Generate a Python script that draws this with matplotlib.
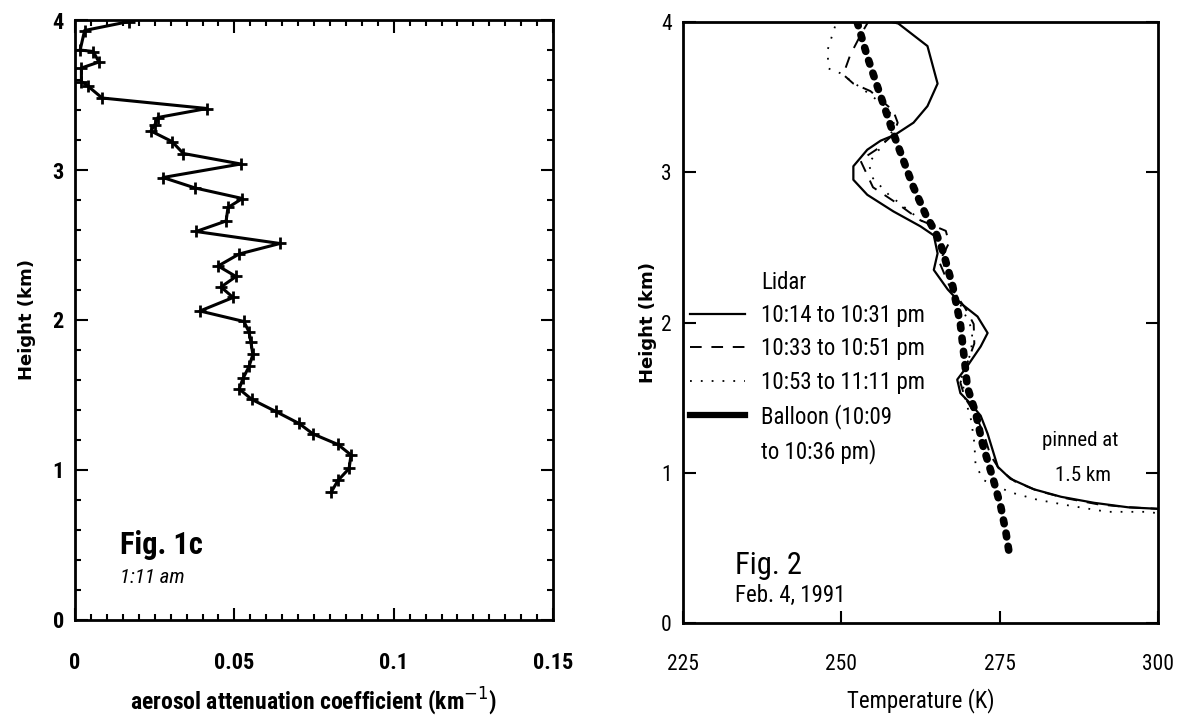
import matplotlib
matplotlib.use("Agg")
import matplotlib.pyplot as plt
from matplotlib import font_manager
from matplotlib.lines import Line2D
from matplotlib.ticker import MultipleLocator

# pick a narrow face if one is around, the scan looks like condensed Helvetica
_have = {(f.name, f.stretch) for f in font_manager.fontManager.ttflist}
_names = {n for n, s in _have}
NARROW, STRETCH, FS = ['DejaVu Sans'], 'normal', 0.86
for cand in ['Roboto Condensed', 'Liberation Sans Narrow', 'Open Sans Condensed',
             'Noto Sans Condensed']:
    if cand in _names:
        NARROW, FS = [cand, 'DejaVu Sans'], 1.0
        break
else:
    if ('DejaVu Sans', 'condensed') in _have or ('DejaVu Sans', 'semi-condensed') in _have:
        STRETCH, FS = 'condensed', 0.95
WIDE = ['DejaVu Sans']

# Fig. 1c - aerosol attenuation profile, 1:11 am
aer_height = [3.99, 3.93, 3.80, 3.79, 3.72, 3.68, 3.59, 3.56, 3.48, 3.41,
              3.35, 3.30, 3.26, 3.19, 3.11, 3.04, 2.95, 2.88, 2.81, 2.75,
              2.66, 2.59, 2.51, 2.44, 2.36, 2.29, 2.22, 2.15, 2.06, 1.99,
              1.92, 1.85, 1.77, 1.69, 1.61, 1.54, 1.47, 1.39, 1.31, 1.24,
              1.17, 1.10, 1.01, 0.93, 0.85]
aer_coef = [0.017, 0.003, 0.0016, 0.0057, 0.0075, 0.002, 0.002, 0.004, 0.0085, 0.0414,
            0.026, 0.025, 0.0238, 0.0304, 0.034, 0.052, 0.0276, 0.0377, 0.0525, 0.048,
            0.0474, 0.038, 0.0643, 0.0515, 0.0449, 0.0505, 0.0458, 0.0496, 0.0392, 0.053,
            0.0546, 0.0552, 0.0558, 0.0546, 0.0527, 0.0515, 0.0555, 0.063, 0.0703, 0.0747,
            0.0825, 0.0866, 0.086, 0.0825, 0.0803]

# Fig. 2 - temperature profiles, Feb. 4, 1991
lid1_height = [4.02, 3.99, 3.84, 3.59, 3.44, 3.33, 3.25, 3.21, 3.15, 3.04,
               2.95, 2.85, 2.74, 2.64, 2.58, 2.46, 2.35, 2.22, 2.13, 2.04,
               1.93, 1.84, 1.71, 1.62, 1.53, 1.46, 1.38, 1.26, 1.15, 1.04,
               0.96, 0.89, 0.84, 0.80, 0.77, 0.76]
lid1_temp = [256.0, 259.0, 263.6, 265.2, 263.6, 261.4, 258.5, 256.2, 254.1, 251.9,
             251.9, 254.1, 258.2, 262.5, 264.6, 265.2, 264.6, 266.8, 268.8, 271.5,
             273.1, 272.0, 269.9, 268.3, 268.8, 270.4, 272.0, 273.1, 273.9, 274.7,
             276.7, 280.4, 284.7, 289.9, 295.3, 300.0]

lid2_height = [4.02, 3.91, 3.78, 3.65, 3.59, 3.54, 3.41, 3.33, 3.25, 3.15,
               3.08, 2.90, 2.79, 2.68, 2.61, 2.53, 2.40, 2.25, 2.10, 1.99,
               1.86, 1.72, 1.60, 1.50, 1.40, 1.26, 1.12, 1.02, 0.94, 0.88,
               0.83, 0.79, 0.77, 0.76]
lid2_temp = [254.5, 253.0, 251.4, 250.3, 251.9, 254.6, 258.2, 258.9, 258.2, 255.5,
             253.0, 255.0, 258.9, 262.5, 266.5, 267.0, 265.5, 267.0, 269.5, 270.9,
             271.0, 269.8, 268.8, 269.5, 271.0, 272.5, 273.5, 275.0, 277.5, 281.0,
             285.5, 290.5, 295.5, 300.0]

lid3_height = [3.97, 3.93, 3.81, 3.69, 3.66, 3.55, 3.42, 3.30, 3.18, 3.06,
               2.96, 2.85, 2.75, 2.65, 2.55, 2.40, 2.25, 2.10, 1.95, 1.80,
               1.65, 1.50, 1.35, 1.20, 1.05, 0.95, 0.87, 0.82, 0.78, 0.74,
               0.74, 0.73]
lid3_temp = [249.0, 248.7, 247.8, 248.0, 249.8, 253.5, 257.5, 258.5, 256.5, 254.3,
             255.0, 257.5, 260.5, 263.5, 266.0, 266.0, 267.5, 269.0, 270.7, 270.5,
             269.0, 269.5, 270.5, 271.0, 271.2, 272.5, 276.7, 281.0, 286.2, 292.0,
             298.4, 300.0]

bal_height = [4.0, 3.77, 3.57, 3.41, 3.26, 3.08, 2.90, 2.72, 2.59, 2.48,
              2.24, 1.99, 1.73, 1.57, 1.40, 1.19, 0.97, 0.77, 0.60, 0.44]
bal_temp = [252.5, 254.1, 255.7, 257.0, 258.2, 259.8, 261.4, 263.3, 265.0, 266.0,
            267.6, 268.8, 269.5, 269.9, 271.2, 272.3, 273.9, 275.2, 276.0, 276.6]

legend_labels = ['Lidar', '10:14 to 10:31 pm', '10:33 to 10:51 pm', '10:53 to 11:11 pm',
                 'Balloon (10:09', 'to 10:36 pm)']


def nfont(size, **kw):
    d = dict(family=NARROW, fontstretch=STRETCH, fontsize=size * FS)
    d.update(kw)
    return d


fig = plt.figure(figsize=(11.78, 7.17), dpi=100)
ax1 = fig.add_axes([0.0637, 0.1353, 0.4058, 0.8368])
ax2 = fig.add_axes([0.5798, 0.1311, 0.4032, 0.8382])

for ax in (ax1, ax2):
    for sp in ax.spines.values():
        sp.set_linewidth(2.0)

# ---- left panel
ax1.plot(aer_coef, aer_height, '-', color='black', lw=2.2,
         marker='+', ms=9, mew=2.0)
ax1.set_xlim(0, 0.15)
ax1.set_ylim(0, 4)
ax1.set_xticks([0, 0.05, 0.1, 0.15])
ax1.set_xticklabels(['0', '0.05', '0.1', '0.15'])
ax1.set_yticks([0, 1, 2, 3, 4])
ax1.xaxis.set_minor_locator(MultipleLocator(0.005))
ax1.yaxis.set_minor_locator(MultipleLocator(0.2))
ax1.tick_params(which='both', direction='in', top=True, right=True, width=1.5)
ax1.tick_params(which='major', length=9)
ax1.tick_params(which='minor', length=4)
ax1.tick_params(axis='x', which='major', pad=23)
ax1.tick_params(axis='y', which='major', pad=8)
for lab in ax1.get_xticklabels() + ax1.get_yticklabels():
    lab.update(nfont(16, fontweight='bold'))
ax1.set_xlabel('aerosol attenuation coefficient (km$^{-1}$)',
               **nfont(17, fontweight='bold'), labelpad=8)
ax1.set_ylabel('Height (km)', family=WIDE, fontsize=13, fontweight='bold', labelpad=12)
ax1.text(0.094, 0.125, 'Fig. 1c', transform=ax1.transAxes,
         **nfont(22, fontweight='bold'), va='center')
ax1.text(0.094, 0.07, '1:11 am', transform=ax1.transAxes,
         **nfont(15, style='italic'), va='center')

# ---- right panel
ax2.plot(lid1_temp, lid1_height, '-', color='black', lw=1.6)
ax2.plot(lid2_temp, lid2_height, color='black', lw=1.4, ls=(0, (6, 5)))
ax2.plot(lid3_temp, lid3_height, color='black', lw=1.3, ls=(0, (1, 5)))
ax2.plot(bal_temp, bal_height, color='black', lw=5.5, ls=(0, (0.5, 1.25)),
         dash_capstyle='round')
ax2.set_xlim(225, 300)
ax2.set_ylim(0, 4)
ax2.set_xticks([225, 250, 275, 300])
ax2.set_yticks([0, 1, 2, 3, 4])
ax2.tick_params(which='major', direction='in', right=True, length=9, width=1.5)
ax2.tick_params(axis='x', pad=22)
ax2.tick_params(axis='y', pad=8)
for lab in ax2.get_xticklabels() + ax2.get_yticklabels():
    lab.update(nfont(15.5))
ax2.set_xlabel('Temperature (K)', **nfont(16.5), labelpad=10)
ax2.set_ylabel('Height (km)', family=WIDE, fontsize=13, fontweight='bold', labelpad=3)

handles = [
    Line2D([], [], color='none'),
    Line2D([], [], color='black', lw=1.6),
    Line2D([], [], color='black', lw=1.4, ls=(0, (6, 5))),
    Line2D([], [], color='black', lw=1.3, ls=(0, (1, 5))),
    Line2D([], [], color='black', lw=4.5),
    Line2D([], [], color='none'),
]
ax2.legend(handles, legend_labels, loc='upper left', bbox_to_anchor=(0.015, 0.586),
           frameon=False, handlelength=2.4, handletextpad=0.7, labelspacing=0.45,
           prop={'family': NARROW, 'stretch': STRETCH, 'size': 16.5 * FS},
           borderaxespad=0, borderpad=0)

ax2.text(0.109, 0.0965, 'Fig. 2', transform=ax2.transAxes, **nfont(22), va='center')
ax2.text(0.109, 0.045, 'Feb. 4, 1991', transform=ax2.transAxes, **nfont(16.5), va='center')
ax2.text(0.836, 0.304, 'pinned at', transform=ax2.transAxes, **nfont(15),
         va='center', ha='center')
ax2.text(0.842, 0.246, '1.5 km', transform=ax2.transAxes, **nfont(15),
         va='center', ha='center')

fig.savefig('out.png', dpi=100)
